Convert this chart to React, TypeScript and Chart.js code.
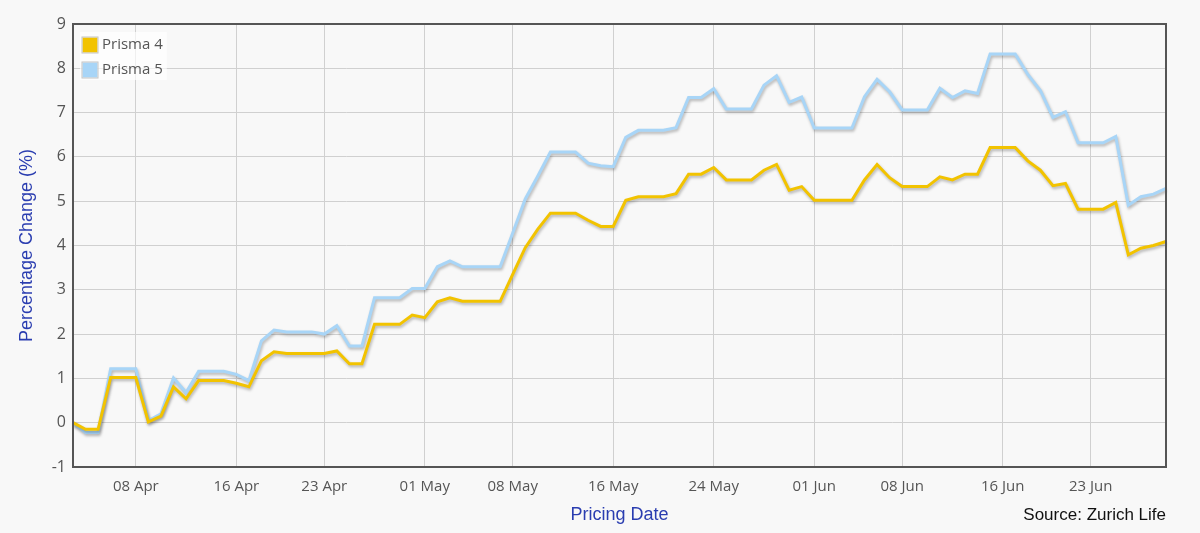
import React, { useEffect, useRef } from "react";
import Chart from "chart.js/auto";

const dates: string[] = [
  "03 Apr", "04 Apr", "05 Apr", "06 Apr", "07 Apr", "08 Apr", "09 Apr", "10 Apr", "11 Apr", "12 Apr",
  "13 Apr", "14 Apr", "15 Apr", "16 Apr", "17 Apr", "18 Apr", "19 Apr", "20 Apr", "21 Apr", "22 Apr",
  "23 Apr", "24 Apr", "25 Apr", "26 Apr", "27 Apr", "28 Apr", "29 Apr", "30 Apr",
  "01 May", "02 May", "03 May", "04 May", "05 May", "06 May", "07 May", "08 May", "09 May", "10 May",
  "11 May", "12 May", "13 May", "14 May", "15 May", "16 May", "17 May", "18 May", "19 May", "20 May",
  "21 May", "22 May", "23 May", "24 May", "25 May", "26 May", "27 May", "28 May", "29 May", "30 May", "31 May",
  "01 Jun", "02 Jun", "03 Jun", "04 Jun", "05 Jun", "06 Jun", "07 Jun", "08 Jun", "09 Jun", "10 Jun",
  "11 Jun", "12 Jun", "13 Jun", "14 Jun", "15 Jun", "16 Jun", "17 Jun", "18 Jun", "19 Jun", "20 Jun",
  "21 Jun", "22 Jun", "23 Jun", "24 Jun", "25 Jun", "26 Jun", "27 Jun", "28 Jun", "29 Jun",
];

const tickLabels: string[] = [
  "08 Apr", "16 Apr", "23 Apr", "01 May", "08 May", "16 May", "24 May", "01 Jun", "08 Jun", "16 Jun", "23 Jun",
];

const prisma4: number[] = [
  0, -0.15, -0.15, 1.02, 1.02, 1.02, 0.02, 0.15, 0.81, 0.54,
  0.95, 0.95, 0.95, 0.89, 0.81, 1.4, 1.6, 1.56, 1.56, 1.56,
  1.56, 1.62, 1.33, 1.33, 2.22, 2.22, 2.22, 2.43, 2.37, 2.73,
  2.82, 2.74, 2.74, 2.74, 2.74, 3.35, 3.95, 4.37, 4.73, 4.73,
  4.73, 4.57, 4.43, 4.43, 5.02, 5.1, 5.1, 5.1, 5.17, 5.61,
  5.61, 5.76, 5.48, 5.48, 5.48, 5.7, 5.83, 5.25, 5.33, 5.02,
  5.02, 5.02, 5.02, 5.48, 5.83, 5.53, 5.33, 5.33, 5.33, 5.55,
  5.48, 5.61, 5.61, 6.21, 6.21, 6.21, 5.91, 5.7, 5.35, 5.4,
  4.82, 4.82, 4.82, 4.97, 3.79, 3.94, 4.0, 4.09,
];

const prisma5: number[] = [
  0, -0.22, -0.22, 1.22, 1.22, 1.22, 0.05, 0.2, 1.01, 0.68,
  1.16, 1.16, 1.16, 1.09, 0.95, 1.85, 2.09, 2.05, 2.05, 2.05,
  2.0, 2.19, 1.73, 1.73, 2.82, 2.82, 2.82, 3.03, 3.03, 3.52,
  3.65, 3.52, 3.52, 3.52, 3.52, 4.28, 5.05, 5.57, 6.11, 6.11,
  6.11, 5.86, 5.8, 5.78, 6.44, 6.6, 6.6, 6.6, 6.66, 7.34,
  7.34, 7.54, 7.08, 7.08, 7.08, 7.62, 7.83, 7.23, 7.35, 6.65,
  6.65, 6.65, 6.65, 7.36, 7.75, 7.47, 7.06, 7.06, 7.06, 7.55,
  7.34, 7.49, 7.43, 8.32, 8.32, 8.32, 7.86, 7.5, 6.89, 7.02,
  6.32, 6.32, 6.32, 6.46, 4.91, 5.1, 5.16, 5.29,
];

const BG = "#f8f8f8";

const shadowPlugin = {
  id: "lineShadow",
  beforeDatasetDraw(chart: any) {
    const ctx = chart.ctx;
    ctx.save();
    ctx.shadowColor = "rgba(0,0,0,0.28)";
    ctx.shadowBlur = 3;
    ctx.shadowOffsetX = 1;
    ctx.shadowOffsetY = 2;
  },
  afterDatasetDraw(chart: any) {
    chart.ctx.restore();
  },
};

const decorPlugin = {
  id: "decor",
  beforeDraw(chart: any) {
    const ctx = chart.ctx;
    ctx.save();
    ctx.fillStyle = BG;
    ctx.fillRect(0, 0, chart.width, chart.height);
    ctx.restore();
  },
  afterDatasetsDraw(chart: any) {
    // legend inside the plot area, top-left
    const ctx = chart.ctx;
    const a = chart.chartArea;
    const sets = chart.data.datasets;
    const x0 = a.left + 7;
    const y0 = a.top + 8;
    const rowH = 25;
    ctx.save();
    ctx.font = '15px "Open Sans", sans-serif';
    let maxW = 0;
    sets.forEach((d: any) => {
      maxW = Math.max(maxW, ctx.measureText(d.label).width);
    });
    ctx.fillStyle = "rgba(255,255,255,0.65)";
    ctx.fillRect(x0, y0, 22 + maxW + 4, sets.length * rowH - 2);
    sets.forEach((d: any, i: number) => {
      const cy = y0 + 13 + i * rowH;
      ctx.fillStyle = d.backgroundColor;
      ctx.fillRect(x0 + 2.5, cy - 7.5, 15, 15);
      ctx.strokeStyle = "#c4c4c4";
      ctx.lineWidth = 1;
      ctx.strokeRect(x0 + 2, cy - 8, 16, 16);
      ctx.fillStyle = "#555555";
      ctx.textAlign = "left";
      ctx.textBaseline = "middle";
      ctx.fillText(d.label, x0 + 22, cy);
    });
    ctx.restore();
  },
  afterDraw(chart: any) {
    const ctx = chart.ctx;
    const a = chart.chartArea;
    ctx.save();
    ctx.strokeStyle = "#555555";
    ctx.lineWidth = 2;
    ctx.strokeRect(a.left, a.top, a.right - a.left, a.bottom - a.top);
    ctx.fillStyle = "#111111";
    ctx.font = '17px "Liberation Sans", Arial, sans-serif';
    ctx.textAlign = "right";
    ctx.textBaseline = "middle";
    ctx.fillText("Source: Zurich Life", a.right, chart.height - 18);
    ctx.restore();
  },
};

export default function App() {
  const ref = useRef<HTMLCanvasElement | null>(null);

  useEffect(() => {
    document.body.style.margin = "0";
    document.body.style.background = BG;
    if (!ref.current) return;
    const chart = new Chart(ref.current, {
      type: "line",
      data: {
        labels: dates,
        datasets: [
          {
            label: "Prisma 4",
            data: prisma4,
            borderColor: "#f2c300",
            backgroundColor: "#f2c300",
            borderWidth: 3,
            pointRadius: 0,
            tension: 0,
          },
          {
            label: "Prisma 5",
            data: prisma5,
            borderColor: "#a8d5f7",
            backgroundColor: "#a8d5f7",
            borderWidth: 3,
            pointRadius: 0,
            tension: 0,
          },
        ],
      },
      options: {
        animation: false,
        responsive: true,
        maintainAspectRatio: false,
        layout: { padding: { left: 8, top: 24, right: 34, bottom: 0 } },
        plugins: {
          tooltip: { enabled: false },
          legend: { display: false },
        },
        scales: {
          x: {
            type: "category",
            offset: false,
            border: { display: false },
            grid: {
              drawTicks: false,
              color: (ctx: any) =>
                tickLabels.includes(dates[ctx.index]) ? "#d0d0d0" : "rgba(0,0,0,0)",
            },
            ticks: {
              autoSkip: false,
              maxRotation: 0,
              padding: 11,
              color: "#555555",
              font: { family: '"Open Sans", sans-serif', size: 15 },
              callback: (_v: any, i: number) =>
                tickLabels.includes(dates[i]) ? dates[i] : "",
            },
            title: {
              display: true,
              text: "Pricing Date",
              color: "#2a3db0",
              font: { family: '"Liberation Sans", Arial, sans-serif', size: 18 },
              padding: { top: 0, bottom: 7 },
            },
            afterFit: (s: any) => {
              s.height = 66;
            },
          },
          y: {
            min: -1,
            max: 9,
            border: { display: false },
            grid: { drawTicks: false, color: "#d0d0d0" },
            ticks: {
              stepSize: 1,
              padding: 7,
              color: "#555555",
              font: { family: '"Open Sans", sans-serif', size: 16 },
            },
            title: {
              display: true,
              text: "Percentage Change (%)",
              color: "#2a3db0",
              font: { family: '"Liberation Sans", Arial, sans-serif', size: 18 },
              padding: { top: 8, bottom: 0 },
            },
            afterFit: (s: any) => {
              s.width = 65;
            },
          },
        },
      },
      plugins: [decorPlugin, shadowPlugin],
    });
    return () => chart.destroy();
  }, []);

  return (
    <div style={{ width: 1200, height: 533, position: "relative" }}>
      <canvas ref={ref} />
    </div>
  );
}
